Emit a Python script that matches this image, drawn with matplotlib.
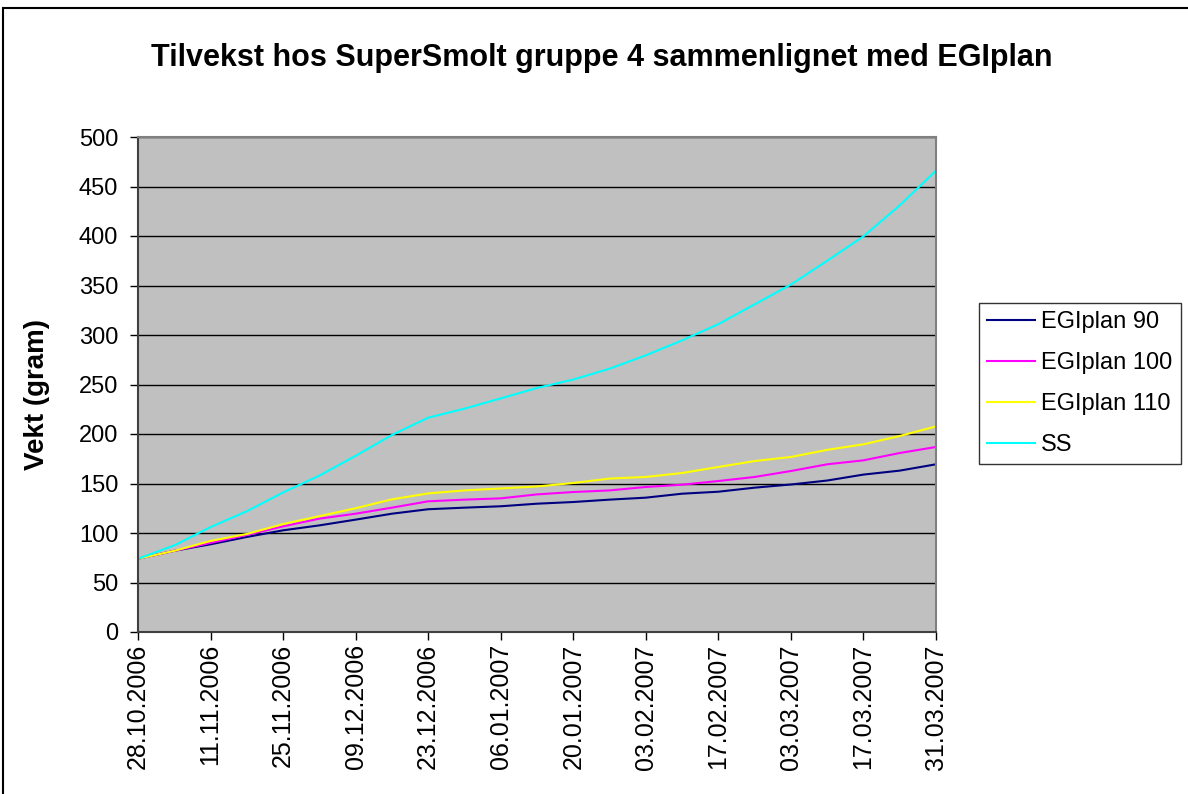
import datetime as dt
import matplotlib
matplotlib.use("Agg")
import matplotlib.pyplot as plt
import matplotlib.dates as mdates
from matplotlib.patches import Rectangle

plt.rcParams['font.family'] = ['Liberation Sans', 'DejaVu Sans']

# weekly weighings, 28.10.2006 - 31.03.2007
start = dt.date(2006, 10, 28)
dates = [start + dt.timedelta(weeks=i) for i in range(23)]

egi90 = [74, 82, 88.6, 96, 102.7, 107.7, 113.5, 119.5, 124, 125.6, 127, 129.6,
         131.3, 133.7, 135.7, 139.7, 141.7, 145.8, 149, 153, 159, 163, 169.4]
egi100 = [74, 82, 90, 98, 106.7, 114.5, 119.5, 125.6, 132, 133.7, 135, 139,
          141.4, 143, 146.5, 148.8, 152.5, 156.6, 162.6, 169.4, 173.4, 180.8, 186.9]
egi110 = [74, 82, 92, 99, 109, 117, 125, 134, 140, 143, 145, 147,
          150.5, 155, 156.6, 160.6, 166.7, 172.7, 176.8, 184, 189.6, 198, 207.7]
ss = [74, 87.5, 106, 122, 141, 158, 178, 199, 216.5, 225.6, 236, 246.5,
      255, 266, 279.5, 294.6, 311, 331, 351, 375, 399.7, 431, 466]

series = [("EGIplan 90", egi90, "#000080"),
          ("EGIplan 100", egi100, "#FF00FF"),
          ("EGIplan 110", egi110, "#FFFF00"),
          ("SS", ss, "#00FFFF")]

fig = plt.figure(figsize=(11.88, 7.94), dpi=100)
fig.patches.append(Rectangle((3 / 1188, -0.01), 1.02, 1 - 8 / 794 + 0.01,
                             transform=fig.transFigure, fill=False,
                             edgecolor="black", linewidth=1.5))

ax = fig.add_axes([138 / 1188, 162 / 794, 798 / 1188, 495 / 794])
ax.set_facecolor("#C0C0C0")

for name, vals, col in series:
    ax.plot(dates, vals, color=col, linewidth=1.5, label=name)

ax.set_ylim(0, 500)
ax.set_yticks(range(0, 501, 50))
ax.set_xlim(dates[0], dates[-1] + dt.timedelta(days=0.8))
ticks = [start + dt.timedelta(days=14 * i) for i in range(12)]
ax.set_xticks(ticks)
ax.xaxis.set_major_formatter(mdates.DateFormatter("%d.%m.%Y"))
plt.setp(ax.get_xticklabels(), rotation=90)

ax.grid(axis="y", color="black", linewidth=1)
ax.set_axisbelow(True)
for s in ["top", "right"]:
    ax.spines[s].set_color("#808080")
    ax.spines[s].set_linewidth(1.5)
for s in ["left", "bottom"]:
    ax.spines[s].set_color("#404040")
    ax.spines[s].set_linewidth(1.5)
ax.tick_params(axis="both", length=5.8, width=1, color="black")
ax.tick_params(axis="y", labelsize=17, pad=8.5)
ax.tick_params(axis="x", labelsize=18, pad=3)

ax.set_ylabel("Vekt (gram)", fontsize=20, fontweight="bold")
ax.yaxis.set_label_coords((50 - 138) / 798, 0.48)
fig.text(0.5 * (148 + 1056) / 1188, 1 - 58 / 794,
         "Tilvekst hos SuperSmolt gruppe 4 sammenlignet med EGIplan",
         ha="center", va="center", fontsize=22, fontweight="bold")

leg = ax.legend(loc="upper left", bbox_to_anchor=(979 / 1188, 1 - 303 / 794),
                bbox_transform=fig.transFigure, fontsize=17, frameon=True,
                fancybox=False, edgecolor="black", borderaxespad=0,
                handlelength=2.03, handletextpad=0.25, labelspacing=0.8,
                borderpad=0.35)
leg.get_frame().set_linewidth(1)

fig.savefig("out.png", dpi=100)
